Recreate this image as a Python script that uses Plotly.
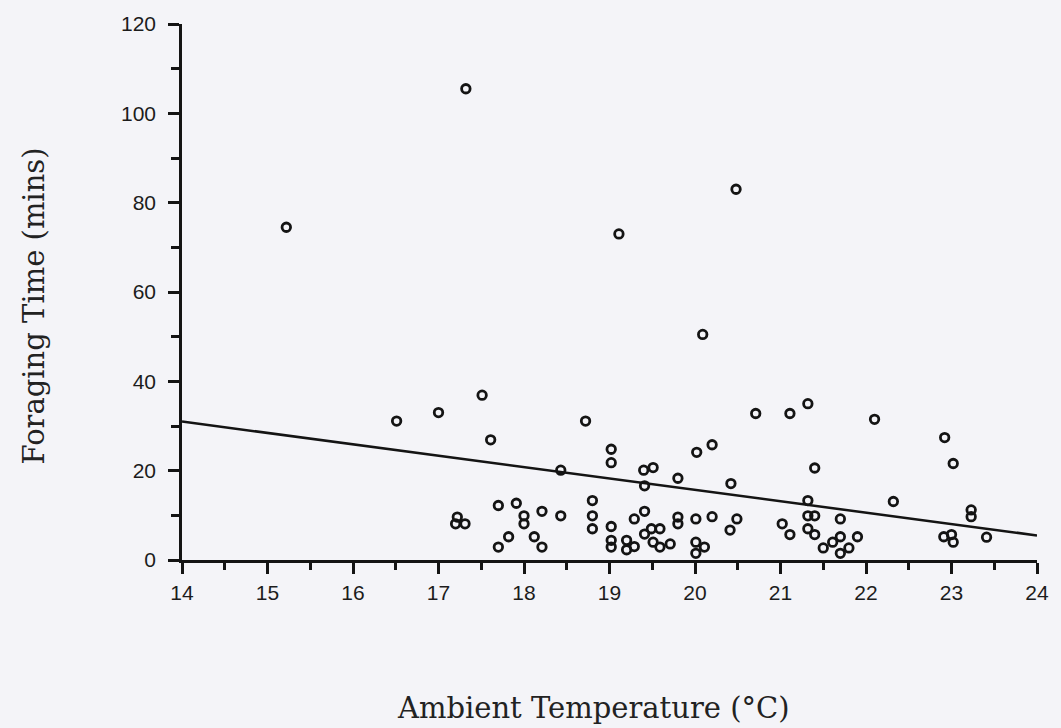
import plotly.graph_objects as go

# Ambient temperature (°C) for each foraging observation
temperature = [
    16.51, 17.00,
    17.51, 17.61, 18.72, 19.02, 19.02, 18.43, 19.40, 19.51, 19.41, 19.80, 20.02, 20.20, 20.42,
    17.22, 17.20, 17.31, 17.70, 17.70, 17.82, 17.91, 18.00, 18.00, 18.12, 18.21, 18.21, 18.43,
    18.80, 18.80, 18.80, 19.02, 19.02, 19.02, 19.20, 19.20, 19.29, 19.29, 19.41, 19.41, 19.49,
    19.51, 19.59, 19.59, 19.71, 19.80, 19.80, 20.01, 20.01, 20.01, 20.11, 20.20, 20.41,
    20.49, 20.71, 21.11, 21.32, 22.10, 22.92, 23.02, 21.40, 22.32, 21.32, 21.32, 21.40, 21.02,
    21.11, 21.32, 21.40, 21.50, 21.61, 21.70, 21.70, 21.70, 21.80, 21.90, 23.23, 23.23, 22.91,
    23.00, 23.02, 23.41,
    15.22, 17.32, 19.11, 20.48, 20.09,
]

# Foraging time (mins)
foraging_time = [
    31.1, 33.0,
    36.9, 26.9, 31.1, 24.8, 21.8, 20.1, 20.1, 20.7, 16.6, 18.3, 24.1, 25.8, 17.1,
    9.6, 8.1, 8.1, 12.2, 2.9, 5.2, 12.7, 9.9, 8.1, 5.2, 2.9, 10.9, 9.9,
    13.3, 9.9, 7.0, 7.5, 4.4, 2.9, 4.4, 2.3, 3.0, 9.2, 10.9, 5.8, 7.0,
    4.0, 7.0, 2.9, 3.6, 9.6, 8.1, 9.2, 4.0, 1.5, 2.9, 9.7, 6.7,
    9.2, 32.8, 32.8, 35.0, 31.5, 27.4, 21.6, 20.6, 13.1, 13.3, 9.9, 9.9, 8.1,
    5.7, 7.0, 5.7, 2.7, 4.0, 9.2, 5.2, 1.5, 2.7, 5.2, 11.2, 9.7, 5.2,
    5.7, 4.0, 5.1,
    74.5, 105.5, 73.0, 83.0, 50.5,
]

# Fitted regression line end points
fit_x = [14, 24]
fit_y = [31.0, 5.5]

x_ticks = [14, 15, 16, 17, 18, 19, 20, 21, 22, 23, 24]
y_ticks = [0, 20, 40, 60, 80, 100, 120]

BG = "#f4f4f8"
INK = "#141414"

fig = go.Figure()
fig.add_trace(go.Scatter(
    x=fit_x, y=fit_y, mode="lines",
    line=dict(color=INK, width=2.5),
    showlegend=False, hoverinfo="skip",
))
fig.add_trace(go.Scatter(
    x=temperature, y=foraging_time, mode="markers",
    marker=dict(symbol="circle-open", size=8.5, color=INK,
                line=dict(width=2.8, color=INK)),
    showlegend=False, cliponaxis=False,
))

tick_font = dict(family="Liberation Sans, Arial, sans-serif", size=21, color="#1c1c1c")

fig.update_xaxes(
    range=[14, 24], tickmode="array", tickvals=x_ticks,
    ticktext=[str(v) for v in x_ticks],
    ticks="outside", ticklen=11, tickwidth=2.5, tickcolor=INK,
    showline=True, linewidth=2.5, linecolor=INK,
    showgrid=False, zeroline=False, tickfont=tick_font,
    minor=dict(ticks="outside", dtick=0.5, tick0=14, ticklen=7, tickwidth=2.5,
               tickcolor=INK, showgrid=False),
    ticklabelstandoff=1,
)
fig.update_yaxes(
    range=[0, 120], tickmode="array", tickvals=y_ticks,
    ticktext=[str(v) for v in y_ticks],
    ticks="outside", ticklen=11, tickwidth=2.5, tickcolor=INK,
    showline=True, linewidth=2.5, linecolor=INK,
    showgrid=False, zeroline=False, tickfont=tick_font,
    minor=dict(ticks="outside", dtick=10, tick0=0, ticklen=8, tickwidth=2.5,
               tickcolor=INK, showgrid=False),
    ticklabelstandoff=8,
)

title_font = dict(family="DejaVu Serif, Liberation Serif, serif", size=29, color="#222222")

L, R, T, B = 182, 1045, 24, 560
W, H = 1061, 728

def px_to_paper(px, py):
    return (px - L) / (R - L), (B - py) / (B - T)

ax_x, ax_y = px_to_paper(597, 708)
ay_x, ay_y = px_to_paper(33, 306)

fig.add_annotation(text="Ambient Temperature (°C)", xref="paper", yref="paper",
                   x=ax_x, y=ax_y, xanchor="center", yanchor="middle",
                   showarrow=False, font=title_font)
fig.add_annotation(text="Foraging Time (mins)", xref="paper", yref="paper",
                   x=ay_x, y=ay_y, xanchor="center", yanchor="middle",
                   textangle=-90, showarrow=False, font=title_font)

fig.update_layout(
    width=W, height=H,
    margin=dict(l=L, r=W - R, t=T, b=H - B),
    paper_bgcolor=BG, plot_bgcolor=BG,
)

fig.write_html("out.html")
